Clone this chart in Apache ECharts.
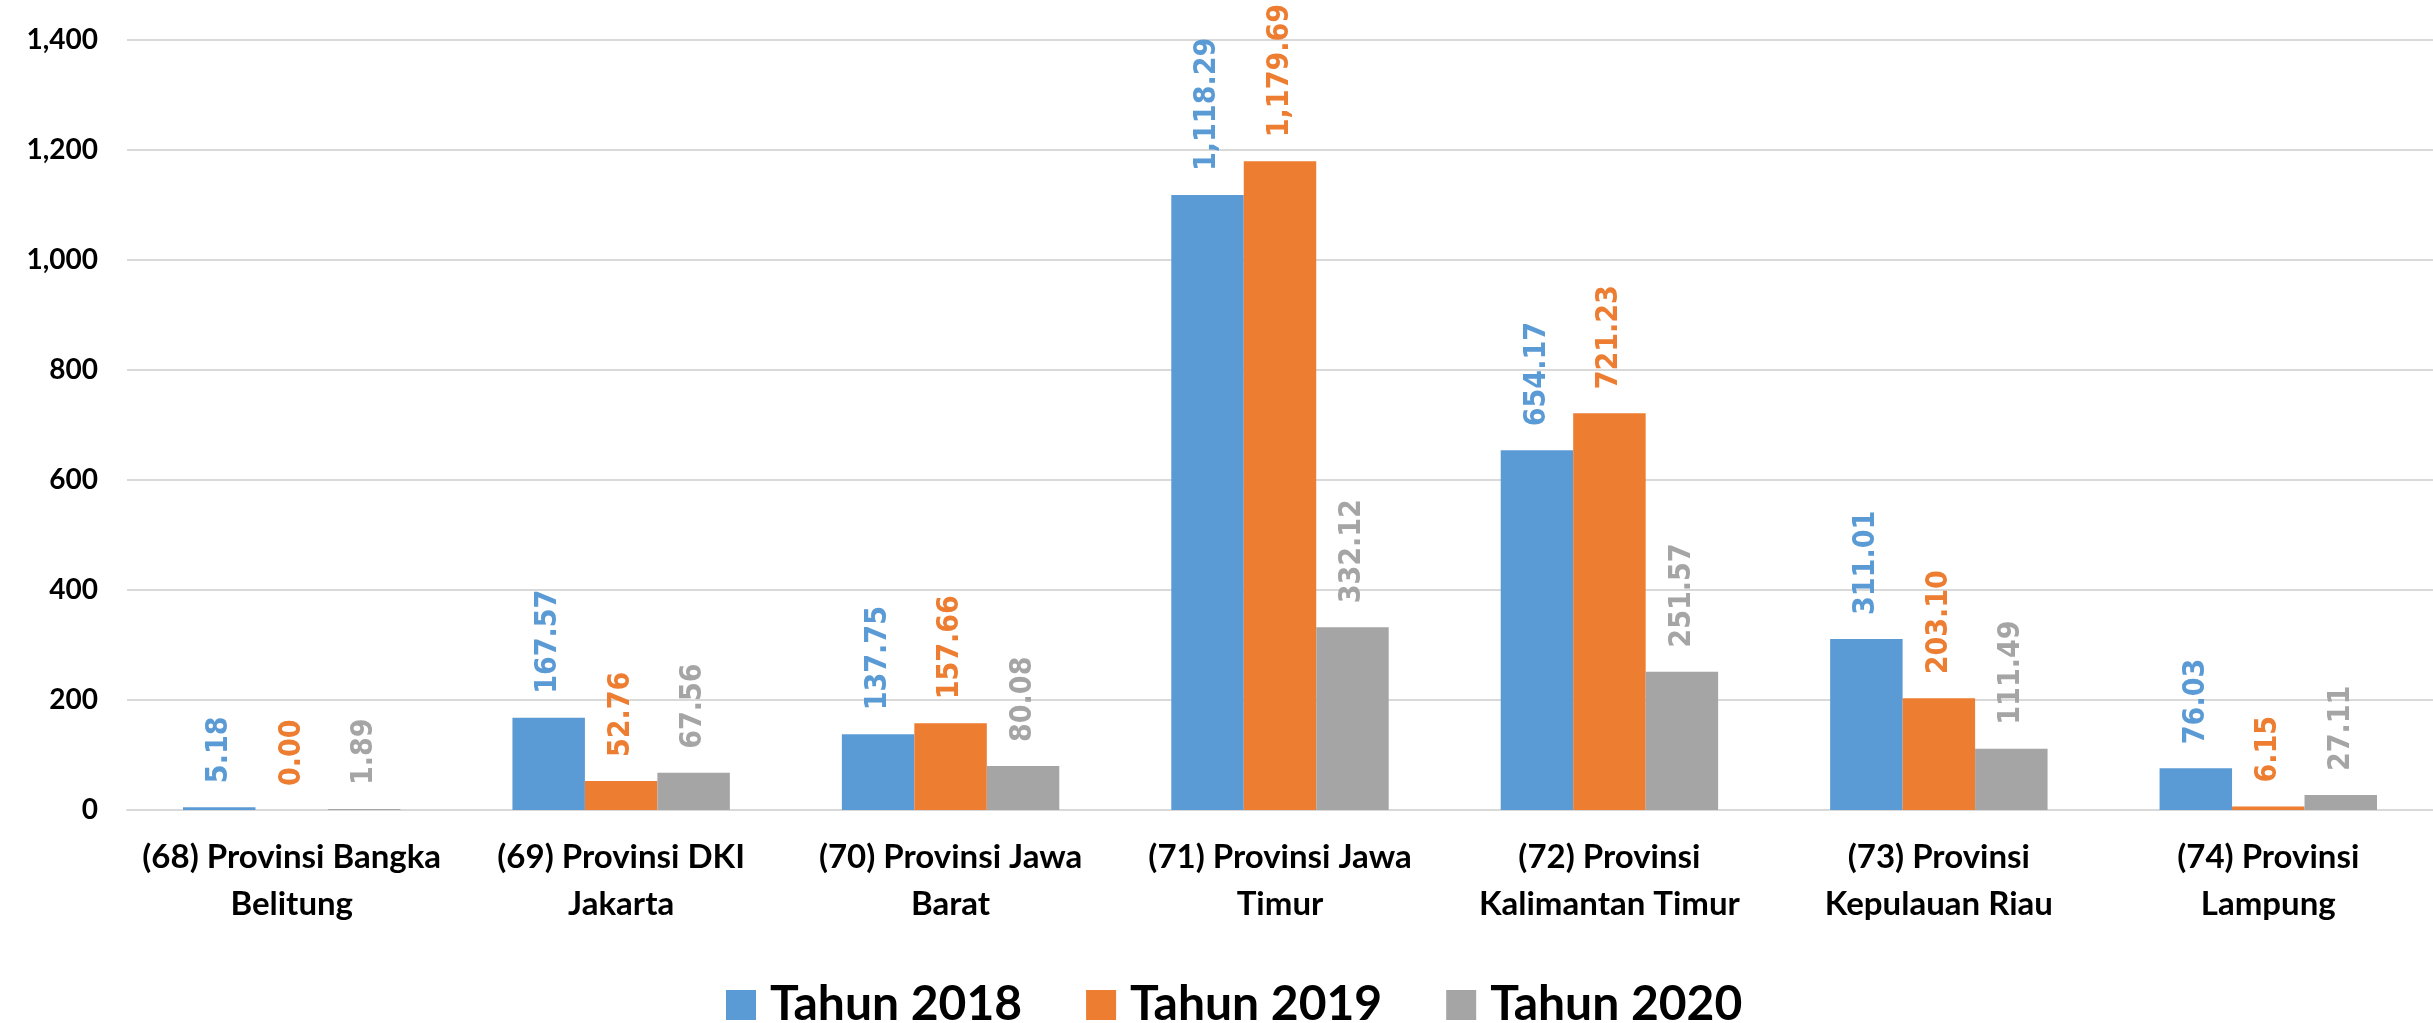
<!DOCTYPE html>
<html lang="id">
<head>
<meta charset="UTF-8">
<title>Chart</title>
<script src="https://cdn.jsdelivr.net/npm/echarts@6/dist/echarts.min.js"></script>
<style>
  html, body { margin: 0; padding: 0; background: #fff; }
  #chart { width: 2433px; height: 1023px; }
</style>
</head>
<body>
<div id="chart"></div>
<script>
var provinsi = [
  '(68) Provinsi Bangka\nBelitung',
  '(69) Provinsi DKI\nJakarta',
  '(70) Provinsi Jawa\nBarat',
  '(71) Provinsi Jawa\nTimur',
  '(72) Provinsi\nKalimantan Timur',
  '(73) Provinsi\nKepulauan Riau',
  '(74) Provinsi\nLampung'
];
var tahun2018 = [5.18, 167.57, 137.75, 1118.29, 654.17, 311.01, 76.03];
var tahun2019 = [0.00, 52.76, 157.66, 1179.69, 721.23, 203.10, 6.15];
var tahun2020 = [1.89, 67.56, 80.08, 332.12, 251.57, 111.49, 27.11];
var namaSeri = ['Tahun 2018', 'Tahun 2019', 'Tahun 2020'];
var warna = ['#5B9BD5', '#ED7D31', '#A5A5A5'];

var chart = echarts.init(document.getElementById('chart'));

function fmt2(v) {
  return Number(v).toLocaleString('en-US', {minimumFractionDigits: 2, maximumFractionDigits: 2});
}

function seri(nama, data, c) {
  return {
    name: nama,
    type: 'bar',
    data: data,
    barGap: 0,
    barCategoryGap: '34%',
    itemStyle: { color: c },
    label: {
      show: true,
      position: 'top',
      rotate: 90,
      align: 'left',
      verticalAlign: 'middle',
      distance: 24,
      color: c,
      fontFamily: '"DejaVu Sans Condensed", "DejaVu Sans"',
      fontWeight: 'bold',
      fontSize: 30,
      formatter: function (p) { return fmt2(p.value); }
    }
  };
}

var option = {
  animation: false,
  color: warna,
  grid: { left: 127, right: -4, top: 40, bottom: 213, containLabel: false },
  legend: {
    data: namaSeri,
    left: 721,
    top: 976,
    icon: 'rect',
    itemWidth: 30,
    itemHeight: 30,
    itemGap: 64,
    textStyle: {
      fontFamily: 'Lato',
      fontWeight: 'bold',
      fontSize: 48,
      color: '#000',
      padding: [0, 0, 0, 9]
    }
  },
  xAxis: {
    type: 'category',
    data: provinsi,
    axisLine: { show: true, lineStyle: { color: '#d9d9d9', width: 2 } },
    axisTick: { show: false },
    axisLabel: {
      interval: 0,
      margin: 24,
      color: '#000',
      fontFamily: 'Lato',
      fontWeight: 'bold',
      fontSize: 33,
      lineHeight: 47
    }
  },
  yAxis: {
    type: 'value',
    min: 0,
    max: 1400,
    interval: 200,
    axisLine: { show: false },
    axisTick: { show: false },
    splitLine: { lineStyle: { color: '#d9d9d9', width: 2 } },
    axisLabel: {
      margin: 29,
      color: '#000',
      fontFamily: 'Lato',
      fontWeight: 'bold',
      fontSize: 28,
      formatter: function (v) { return v.toLocaleString('en-US'); }
    }
  },
  series: [
    seri(namaSeri[0], tahun2018, warna[0]),
    seri(namaSeri[1], tahun2019, warna[1]),
    seri(namaSeri[2], tahun2020, warna[2])
  ]
};

chart.setOption(option);
</script>
</body>
</html>
